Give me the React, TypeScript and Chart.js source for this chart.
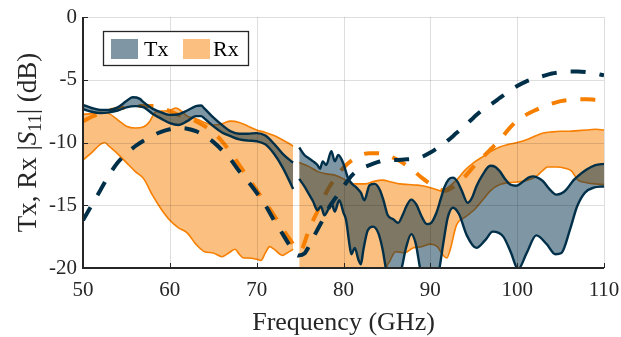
import React, { useEffect, useRef } from "react";
import { Chart, registerables } from "chart.js";

Chart.register(...registerables);

const NAVY = "#003049";
const ORANGE = "#F77F00";
const NAVY_FILL = "rgba(0,48,73,0.5)";
const ORANGE_FILL = "rgba(247,127,0,0.5)";
const TEXT = "#262626";
const FONT = "'Liberation Serif', 'Times New Roman', serif";

const xTicks = [50, 60, 70, 80, 90, 100, 110];
const yTicks = [0, -5, -10, -15, -20];

// Simulated (dashed) curves
const txSimFreq = [50,51,52,53,54,55,56,57,58,59,60,61,62,63,64,65,66,67,68,69,70,71,72,73,74,74.8,75.5,76,76.5,77,77.5,78,78.5,79,79.5,80,81,82,83,84,85,86,87,88,89,90,91,92,93,94,95,96,97,98,99,100,101,102,103,104,105,106,107,108,109,110];
const txSimVal = [-16.2,-15.0,-13.8,-12.6,-11.6,-10.9,-10.3,-9.85,-9.45,-9.15,-8.95,-8.85,-8.9,-9.1,-9.45,-9.95,-10.6,-11.35,-12.3,-13.1,-14.0,-15.0,-16.2,-17.3,-18.4,-19.0,-18.85,-18.3,-17.6,-16.95,-16.3,-15.6,-15.0,-14.5,-14.0,-13.5,-12.6,-12.1,-11.8,-11.55,-11.4,-11.4,-11.35,-11.3,-11.15,-10.8,-10.35,-9.85,-9.25,-8.65,-8.0,-7.4,-6.95,-6.45,-5.95,-5.5,-5.15,-4.9,-4.7,-4.5,-4.4,-4.35,-4.35,-4.4,-4.5,-4.65];

const rxSimFreq = [50,51,52,53,54,55,56,57,58,59,60,61,62,63,64,65,66,67,68,69,70,71,72,73,74,74.7,75.2,75.6,76,76.5,77,77.5,78,78.5,79,80,81,82,83,84,85,86,87,88,89,90,91,91.7,92.5,93,94,95,96,97,98,99,100,101,102,103,104,105,106,107,108,109,110];
const rxSimVal = [-8.3,-7.95,-7.65,-7.45,-7.3,-7.2,-7.1,-7.1,-7.1,-7.25,-7.5,-7.8,-8.0,-8.3,-8.7,-9.2,-9.9,-10.8,-11.8,-12.8,-13.8,-14.8,-15.8,-16.9,-17.9,-18.6,-18.5,-17.8,-17.0,-16.2,-15.5,-14.7,-14.0,-13.4,-12.9,-12.0,-11.4,-11.0,-10.85,-10.85,-11.0,-11.3,-11.7,-12.2,-12.8,-13.3,-13.7,-13.85,-13.6,-13.3,-12.7,-11.9,-11.2,-10.5,-9.8,-8.95,-8.25,-7.8,-7.45,-7.15,-6.9,-6.7,-6.6,-6.55,-6.55,-6.6,-6.65];

// Measured Tx band, below 74.2 GHz
const txHiFreqA = [50,51,52,53,54,55,55.7,56.5,57,58,59,60,61,62,63,63.6,64,65,66,67,68,69,70,71,72,73,74,74.2];
const txHiA = [-7.0,-7.25,-7.4,-7.4,-7.2,-6.7,-6.4,-6.5,-6.8,-7.3,-7.6,-7.8,-7.75,-7.45,-7.1,-7.05,-7.3,-8.0,-8.6,-9.1,-9.3,-9.3,-9.25,-9.45,-10.1,-10.9,-11.5,-11.6];
const txLoFreqA = [50,51,52,53,54,55,56,57,58,59,60,61,62,63,63.6,64,65,66,67,68,69,70,71,72,73,74,74.2];
const txLoA = [-7.35,-7.55,-7.65,-7.6,-7.45,-7.2,-7.1,-7.2,-7.7,-8.1,-8.45,-8.6,-8.3,-7.9,-7.9,-8.1,-8.7,-9.2,-9.5,-9.75,-9.85,-9.9,-10.15,-10.9,-12.0,-13.4,-13.7];

// Measured Tx band, above 74.9 GHz
const txHiFreqB = [74.9,75.5,76,76.5,77,77.3,77.6,78,78.6,79,79.4,80,80.5,81,81.5,82,82.4,83,83.6,84.2,84.6,85.1,85.7,86.3,86.8,87.3,87.8,88.4,89,89.6,90.1,90.7,91.2,91.6,92.1,92.6,93.1,93.6,94.3,94.8,95.3,96,96.9,97.5,98,98.6,99.2,99.9,100.7,101.3,101.9,102.5,103,103.7,104.5,105.1,105.6,106.5,107.3,108,109,110];
const txHiB = [-10.4,-11.0,-11.25,-11.5,-11.8,-12.1,-11.5,-11.8,-10.7,-11.5,-11.0,-11.7,-12.8,-13.3,-13.6,-14.0,-14.6,-13.4,-13.3,-13.8,-14.6,-15.8,-16.1,-16.4,-15.8,-15.0,-14.55,-14.95,-15.9,-16.5,-16.4,-15.6,-14.5,-13.6,-12.95,-12.8,-13.1,-13.8,-14.8,-14.4,-13.5,-12.6,-11.85,-11.95,-12.3,-12.9,-13.35,-13.45,-13.1,-12.8,-12.7,-12.85,-13.1,-13.7,-14.15,-14.05,-13.8,-13.0,-12.5,-12.15,-11.8,-11.7];
const txLoFreqB = [74.9,75.5,76,76.5,77,77.4,77.8,78.2,78.6,79,79.5,80,80.3,80.7,80.9,81.3,81.7,82,82.3,82.8,83.4,84,84.5,85,85.5,86,86.6,87.2,87.8,88.3,88.9,89.5,90.3,91,91.5,92,92.6,93.3,94.2,95.3,96.3,97.2,98.4,99.3,100.1,101.1,102.2,103.4,104.4,105.1,106.1,106.9,107.8,108.8,110];
const txLoB = [-12.9,-13.5,-14.1,-14.7,-15.4,-15.1,-15.8,-15.4,-14.8,-15.5,-14.6,-15.6,-16.2,-18.2,-18.9,-18.4,-19.3,-19.7,-18.5,-17.0,-16.7,-17.2,-18.5,-20.5,-21.5,-21.3,-20.3,-18.4,-17.3,-18.0,-20.3,-21.5,-21.5,-20.2,-18.0,-16.0,-15.2,-15.7,-17.4,-18.4,-17.8,-17.1,-17.5,-18.8,-20.1,-18.8,-17.4,-18.1,-18.9,-18.8,-16.9,-15.1,-14.0,-13.6,-13.5];

// Measured Rx band, below 74.2 GHz
const rxHiFreqA = [50,51,52,53,54,55,56,57,57.7,58.3,59,60,60.7,61.5,62,63,64,65,66,67,68,69,70,71,72,73,74,74.2];
const rxHiA = [-7.75,-7.7,-7.6,-7.7,-8.2,-8.7,-8.85,-8.75,-8.3,-7.6,-7.5,-7.45,-7.25,-7.6,-7.9,-8.1,-8.4,-8.6,-8.5,-8.3,-8.4,-8.7,-9.0,-9.2,-9.45,-9.8,-10.2,-10.3];
const rxLoFreqA = [50,51,52,52.5,53,54,55,56,57,58,59,60,61,62,63,64,65,66,67,67.5,68,68.5,69,70,70.5,71,71.5,72,73,73.5,74,74.2];
const rxLoA = [-11.4,-10.8,-10.15,-10.0,-10.3,-10.9,-11.6,-12.3,-12.9,-14.2,-15.3,-16.2,-16.8,-17.2,-18.1,-18.7,-18.8,-19.1,-18.7,-18.5,-18.9,-19.2,-19.2,-19.3,-19.4,-18.8,-18.3,-18.5,-19.0,-18.8,-18.6,-18.5];

// Measured Rx band, above 74.9 GHz
const rxHiFreqB = [74.9,76,77,78,79,80,80.7,81.5,82.5,83.5,84.5,85.5,86.5,87.5,88.5,89.5,90.5,91.2,92,93,94,95,96,97,98,99,100,101,102,103,104,105,106,107,108,109,110];
const rxHiB = [-11.6,-11.9,-12.3,-12.5,-12.6,-12.9,-13.2,-13.3,-13.3,-13.1,-13.0,-13.15,-13.3,-13.35,-13.4,-13.5,-13.7,-13.85,-13.6,-13.0,-12.2,-11.6,-11.15,-10.7,-10.35,-10.15,-10.0,-9.8,-9.5,-9.25,-9.15,-9.1,-9.1,-9.05,-9.0,-8.95,-9.0];
const rxLoFreqB = [74.9,84.6,84.9,85.3,86,87,88,89,90,90.8,91.5,91.9,92.3,93,94,95,96,97,98,99,100,101,102,103,103.5,104.5,105.5,106.3,107,108,109,110];
const rxLoB = [-22,-22,-20.1,-19.5,-18.7,-18.8,-18.4,-18.3,-18.1,-18.3,-19.0,-19.2,-18.5,-16.6,-15.95,-15.4,-14.6,-13.8,-13.35,-13.2,-13.15,-13.05,-12.8,-12.2,-11.95,-11.95,-12.05,-12.3,-13.0,-13.2,-13.3,-13.35];

const legendLabels = ["Tx", "Rx"];
const xTitle = "Frequency (GHz)";

const pts = (f: number[], v: number[]) => f.map((x, i) => ({ x, y: v[i] }));

const bandLine = (data: any, color: string, width: number, order: number, fill: any = false, bg = "transparent") => ({
  data,
  borderColor: color,
  borderWidth: width,
  backgroundColor: bg,
  fill,
  order,
  pointRadius: 0,
  cubicInterpolationMode: "monotone" as const,
});

const decor = {
  id: "decor",
  afterDatasetsDraw(chart: any) {
    const { ctx, chartArea: a, scales } = chart;
    const xs = scales.x;
    const ys = scales.y;
    ctx.save();
    // grid on top of fills
    ctx.strokeStyle = "rgba(0,0,0,0.13)";
    ctx.lineWidth = 1;
    ctx.beginPath();
    for (const t of xTicks) {
      const px = Math.round(xs.getPixelForValue(t)) + 0.5;
      ctx.moveTo(px, a.top);
      ctx.lineTo(px, a.bottom);
    }
    for (const t of yTicks) {
      const py = Math.round(ys.getPixelForValue(t)) + 0.5;
      ctx.moveTo(a.left, py);
      ctx.lineTo(a.right, py);
    }
    ctx.stroke();
    // inner tick marks
    ctx.strokeStyle = TEXT;
    ctx.lineWidth = 1;
    ctx.beginPath();
    for (const t of xTicks) {
      const px = Math.round(xs.getPixelForValue(t)) + 0.5;
      ctx.moveTo(px, a.bottom);
      ctx.lineTo(px, a.bottom - 5);
    }
    for (const t of yTicks) {
      const py = Math.round(ys.getPixelForValue(t)) + 0.5;
      ctx.moveTo(a.left, py);
      ctx.lineTo(a.left + 5, py);
    }
    ctx.stroke();
    // axis lines
    ctx.strokeStyle = TEXT;
    ctx.lineWidth = 2;
    ctx.beginPath();
    ctx.moveTo(a.left, a.top);
    ctx.lineTo(a.left, a.bottom);
    ctx.lineTo(a.right, a.bottom);
    ctx.stroke();
    // legend
    const lx = a.left + 20;
    const ly = a.top + 14;
    ctx.fillStyle = "#ffffff";
    ctx.fillRect(lx, ly, 146, 34);
    ctx.strokeStyle = TEXT;
    ctx.lineWidth = 1.3;
    ctx.strokeRect(lx + 0.5, ly + 0.5, 145, 34);
    ctx.font = `22px ${FONT}`;
    ctx.textBaseline = "alphabetic";
    ctx.textAlign = "left";
    ctx.fillStyle = NAVY_FILL;
    ctx.fillRect(lx + 8, ly + 8, 27, 20);
    ctx.fillStyle = "#000";
    ctx.fillText(legendLabels[0], lx + 41, ly + 25);
    ctx.fillStyle = ORANGE_FILL;
    ctx.fillRect(lx + 80, ly + 8, 27, 20);
    ctx.fillStyle = "#000";
    ctx.fillText(legendLabels[1], lx + 110, ly + 25);
    ctx.restore();
  },
  afterDraw(chart: any) {
    const { ctx, chartArea: a } = chart;
    ctx.save();
    ctx.fillStyle = TEXT;
    ctx.textBaseline = "alphabetic";
    // x title
    ctx.font = `26px ${FONT}`;
    ctx.textAlign = "center";
    ctx.fillText(xTitle, (a.left + a.right) / 2, 330);
    // y title, rotated, with italic S and subscript 11
    const segs = [
      { t: "Tx, Rx |", f: `27px ${FONT}`, dy: 0 },
      { t: "S", f: `italic 27px ${FONT}`, dy: 0 },
      { t: "11", f: `18px ${FONT}`, dy: 5 },
      { t: "| (dB)", f: `27px ${FONT}`, dy: 0 },
    ];
    let total = 0;
    const widths = segs.map((s) => {
      ctx.font = s.f;
      const w = ctx.measureText(s.t).width;
      total += w;
      return w;
    });
    ctx.translate(36, (a.top + a.bottom) / 2);
    ctx.rotate(-Math.PI / 2);
    ctx.textAlign = "left";
    let x = -total / 2;
    segs.forEach((s, i) => {
      ctx.font = s.f;
      ctx.fillText(s.t, x, s.dy);
      x += widths[i];
    });
    ctx.restore();
  },
};

export default function App() {
  const ref = useRef<HTMLCanvasElement>(null);
  useEffect(() => {
    document.body.style.margin = "0";
    const datasets: any[] = [
      // 0-3: Rx band (bottom layer)
      bandLine(pts(rxHiFreqA, rxHiA), ORANGE, 1.6, 7, 1, ORANGE_FILL),
      bandLine(pts(rxLoFreqA, rxLoA), ORANGE, 1.6, 6),
      bandLine(pts(rxHiFreqB, rxHiB), ORANGE, 1.6, 7, 3, ORANGE_FILL),
      bandLine(pts(rxLoFreqB, rxLoB), ORANGE, 1.6, 6),
      // 4: Rx simulated
      {
        ...bandLine(pts(rxSimFreq, rxSimVal), ORANGE, 4, 5),
        borderDash: [15, 14],
        borderCapStyle: "butt",
      },
      // 5-8: Tx band
      bandLine(pts(txHiFreqA, txHiA), NAVY, 2.4, 3, 6, NAVY_FILL),
      bandLine(pts(txLoFreqA, txLoA), NAVY, 2.4, 2),
      bandLine(pts(txHiFreqB, txHiB), NAVY, 2.4, 3, 8, NAVY_FILL),
      bandLine(pts(txLoFreqB, txLoB), NAVY, 2.4, 2),
      // 9: Tx simulated
      {
        ...bandLine(pts(txSimFreq, txSimVal), NAVY, 4, 0),
        borderDash: [15, 14],
        borderCapStyle: "butt",
      },
    ];
    const chart = new Chart(ref.current!, {
      type: "line",
      data: { datasets },
      options: {
        animation: false,
        responsive: false,
        devicePixelRatio: 1,
        layout: { padding: { top: 17, right: 17, left: 0, bottom: 0 } },
        plugins: { legend: { display: false }, tooltip: { enabled: false } },
        scales: {
          x: {
            type: "linear",
            min: 50,
            max: 110,
            afterBuildTicks: (s: any) => {
              s.ticks = xTicks.map((v) => ({ value: v }));
            },
            afterFit: (s: any) => {
              s.height = 69;
              s.paddingLeft = 0;
              s.paddingRight = 0;
            },
            ticks: {
              font: { family: FONT, size: 21 },
              color: TEXT,
              padding: 10,
              maxRotation: 0,
              autoSkip: false,
              callback: (v: any) => String(v),
            },
            grid: { display: false, drawTicks: false },
            border: { display: false },
          },
          y: {
            type: "linear",
            min: -20,
            max: 0,
            afterBuildTicks: (s: any) => {
              s.ticks = yTicks.map((v) => ({ value: v }));
            },
            afterFit: (s: any) => {
              s.width = 83;
              s.paddingTop = 0;
              s.paddingBottom = 0;
            },
            ticks: {
              font: { family: FONT, size: 21 },
              color: TEXT,
              padding: 6,
              callback: (v: any) => String(v),
            },
            grid: { display: false, drawTicks: false },
            border: { display: false },
          },
        },
      },
      plugins: [decor],
    });
    return () => chart.destroy();
  }, []);
  return (
    <div style={{ position: "relative", width: 621, height: 337 }}>
      <canvas ref={ref} width={621} height={337} style={{ display: "block" }} />
    </div>
  );
}
